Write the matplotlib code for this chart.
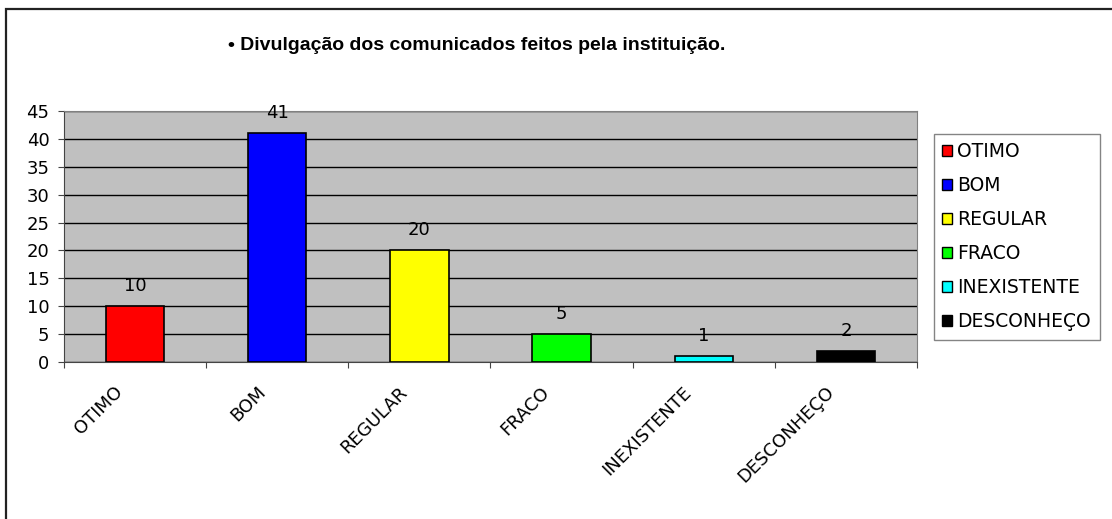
import matplotlib.pyplot as plt
from matplotlib.patches import Patch, Rectangle
from matplotlib.transforms import ScaledTranslation

plt.rcParams["font.family"] = ["DejaVu Sans"]

categories = ["OTIMO", "BOM", "REGULAR", "FRACO", "INEXISTENTE", "DESCONHEÇO"]
values = [10, 41, 20, 5, 1, 2]
colors = ["#FF0000", "#0000FF", "#FFFF00", "#00FF00", "#00FFFF", "#000000"]
title = "• Divulgação dos comunicados feitos pela instituição."

W, H = 1112, 519
fig = plt.figure(figsize=(W / 100, H / 100), dpi=100)

# outer frame, cut off on the right and bottom like the screenshot
fig.patches.append(Rectangle((6 / W, -0.1), 1.2, 1.1 - 9 / H, transform=fig.transFigure,
                             fill=False, edgecolor="#222222", linewidth=1.6, clip_on=False))

ax = fig.add_axes([64 / W, (H - 362) / H, (917 - 64) / W, (362 - 111) / H])
ax.set_facecolor("#C0C0C0")

x = range(len(categories))
ax.bar(x, values, width=0.41, color=colors, edgecolor="black", linewidth=1.2, zorder=3)
for xi, v in zip(x, values):
    ax.annotate(str(v), (xi, v), xytext=(0, 11), textcoords="offset points",
                ha="center", va="baseline", fontsize=13)

ax.set_xlim(-0.5, len(categories) - 0.5)
ax.set_ylim(0, 45)
ax.set_yticks(range(0, 46, 5))
ax.yaxis.grid(True, color="black", linewidth=1.0, zorder=1)
ax.set_axisbelow(True)

ax.set_xticks([i - 0.5 for i in range(len(categories) + 1)])
ax.set_xticklabels([])
ax.tick_params(axis="x", which="major", length=4.5, direction="out", color="#444444")
ax.tick_params(axis="y", length=4.5, direction="out", labelsize=13, pad=6, color="#444444")

# rotated category labels, anchored a bit left of each bar centre
label_tr = ax.get_xaxis_transform() + ScaledTranslation(-0.21, -0.21, fig.dpi_scale_trans)
for xi, name in zip(x, categories):
    ax.text(xi, 0, name, transform=label_tr, rotation=45, ha="right", va="top",
            rotation_mode="anchor", fontsize=13, clip_on=False)

for side in ["top", "right"]:
    ax.spines[side].set_color("#808080")
for side in ["left", "bottom"]:
    ax.spines[side].set_color("#444444")

fig.text(477 / W, 1 - 45 / H, title, ha="center", va="center", fontsize=14,
         fontweight="bold", family="Liberation Sans")

handles = [Patch(facecolor=c, edgecolor="black", linewidth=1.0) for c in colors]
leg = fig.legend(handles, categories, loc="upper left", bbox_to_anchor=(934 / W, 1 - 134 / H),
                 fontsize=13.5, frameon=True, fancybox=False, edgecolor="#666666",
                 handlelength=0.5, handleheight=0.5, handletextpad=0.3,
                 labelspacing=0.8, borderpad=0.45, borderaxespad=0)
leg.get_frame().set_linewidth(1.0)

fig.savefig("out.png", dpi=100)
